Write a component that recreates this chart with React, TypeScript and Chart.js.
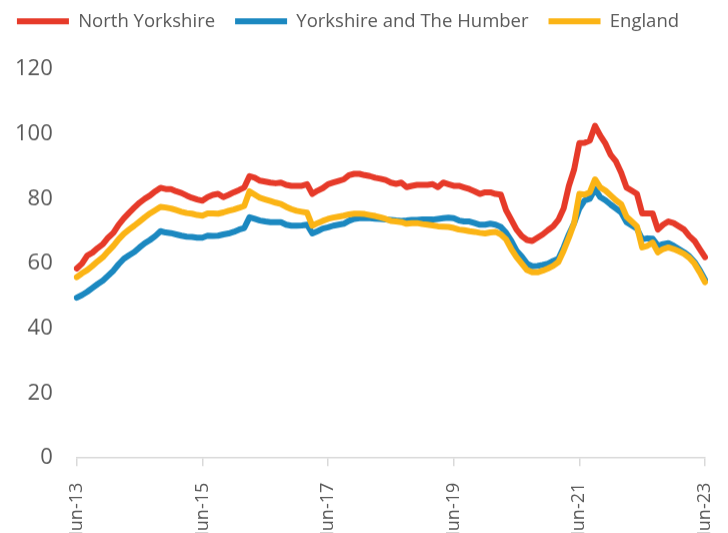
import React, { useEffect, useRef } from "react";
import { Chart, registerables } from "chart.js";

Chart.register(...registerables);

const MONTHS = ["Jan","Feb","Mar","Apr","May","Jun","Jul","Aug","Sep","Oct","Nov","Dec"];
// Monthly categories Jun-13 .. Jun-23
const categories: string[] = [];
for (let y = 2013, m = 5; y < 2023 || (y === 2023 && m <= 5); ) {
  categories.push(`${MONTHS[m]}-${String(y).slice(2)}`);
  m++;
  if (m > 11) { m = 0; y++; }
}

const northYorkshire = [
  58.5, 60, 62.5, 63.4, 64.8, 66, 68, 69.5, 72, 74, 75.7, 77.3, 78.8, 80, 81, 82.3, 83.4, 83, 83, 82.3,
  81.8, 81, 80.3, 79.8, 79.4, 80.5, 81.2, 81.5, 80.5, 81.2, 82, 82.7, 83.5, 87, 86.5, 85.6, 85.3, 85, 84.8, 85,
  84.3, 84, 84, 84, 84.5, 81.5, 82.5, 83.3, 84.5, 85, 85.5, 86, 87.3, 87.7, 87.7, 87.3, 87, 86.5, 86.2, 85.8,
  85, 84.6, 85, 83.6, 84, 84.3, 84.3, 84.3, 84.5, 83.6, 85, 84.5, 84, 84, 83.5, 83, 82.3, 81.5, 82, 82,
  81.5, 81.3, 76.5, 73.5, 70.5, 68.5, 67.3, 67, 68, 69, 70.3, 71.5, 73.5, 77, 84, 89, 97.2, 97.3, 98, 102.5,
  99.5, 97, 93.5, 91.5, 88, 83.5, 82.5, 81.5, 75.5, 75.5, 75.5, 70.5, 72, 73, 72.5, 71.5, 70.5, 68.5, 67, 64.5,
  62,
];

const yorkshireHumber = [
  49.5, 50.3, 51.3, 52.5, 53.7, 54.8, 56.3, 57.8, 59.8, 61.5, 62.6, 63.6, 65, 66.3, 67.3, 68.5, 70, 69.6, 69.4, 69,
  68.6, 68.3, 68.2, 68, 68, 68.6, 68.5, 68.6, 69, 69.3, 69.8, 70.5, 71, 74.3, 73.8, 73.3, 73, 72.8, 72.8, 72.8,
  72, 71.7, 71.7, 71.8, 72, 69.3, 70, 70.8, 71.2, 71.7, 72, 72.3, 73.2, 73.8, 74, 74, 74, 73.9, 73.8, 73.6,
  73.5, 73.3, 73.2, 73.3, 73.5, 73.5, 73.6, 73.6, 73.6, 73.8, 74, 74.2, 74, 73.3, 73, 73, 72.5, 72, 72, 72.3,
  72, 71.3, 69.5, 67, 64, 62.2, 60, 59.2, 59.3, 59.6, 60, 60.8, 61.5, 65, 69, 72.5, 77, 79.5, 80, 83,
  80.5, 79.5, 78.2, 77, 75.8, 72.8, 71.8, 70.8, 67.5, 67.8, 67.7, 65.5, 66, 66.3, 65.5, 64.5, 63.5, 62.3, 60.5, 58,
  55,
];

const england = [
  55.8, 57, 58, 59.3, 60.7, 62, 63.8, 65.5, 67.5, 69.2, 70.5, 71.7, 73, 74.3, 75.5, 76.5, 77.5, 77.3, 77, 76.5,
  76, 75.6, 75.4, 75, 74.8, 75.5, 75.5, 75.4, 75.8, 76.3, 76.7, 77.2, 77.8, 82.3, 81.3, 80.3, 79.8, 79.3, 78.8, 78.4,
  77.5, 76.8, 76.3, 76, 75.7, 71.7, 72.5, 73.2, 73.8, 74.2, 74.5, 74.8, 75.2, 75.4, 75.4, 75.3, 75, 74.7, 74.3, 73.8,
  73.2, 73, 72.8, 72.3, 72.5, 72.5, 72.2, 72, 71.8, 71.5, 71.4, 71.3, 71, 70.5, 70.3, 70, 69.8, 69.5, 69.3, 69.6,
  69.8, 69, 67.5, 64.5, 62, 60, 58, 57.3, 57.3, 57.8, 58.5, 59.3, 60.5, 64, 68, 72.5, 81.5, 81.3, 82, 86,
  83.5, 82.5, 81, 79.5, 78.3, 74.5, 73, 71.5, 65, 65.5, 66.5, 63.5, 64.5, 65, 64.5, 63.8, 63, 61.8, 60, 57.3,
  54.3,
];

const seriesNames = ["North Yorkshire", "Yorkshire and The Humber", "England"];
const seriesColors = ["#E63A29", "#1B88C0", "#FBB415"];
const yTicks = [0, 20, 40, 60, 80, 100, 120];

export default function App() {
  const ref = useRef<HTMLCanvasElement | null>(null);

  useEffect(() => {
    document.body.style.margin = "0";
    const canvas = ref.current;
    if (!canvas) return;
    Chart.defaults.font.family = "'Open Sans', sans-serif";
    Chart.defaults.color = "#595959";

    const legendHeight = {
      id: "legendHeight",
      beforeInit(chart: any) {
        const legend = chart.legend;
        if (!legend) return;
        const orig = legend.fit;
        legend.fit = function () {
          orig.call(this);
          this.height = 77;
        };
      },
    };

    const values = [northYorkshire, yorkshireHumber, england];
    const orders = [1, 2, 0];

    const chart = new Chart(canvas, {
      type: "line",
      data: {
        labels: categories,
        datasets: values.map((d, i) => ({
          label: seriesNames[i],
          data: d,
          borderColor: seriesColors[i],
          backgroundColor: seriesColors[i],
          borderWidth: 6,
          pointRadius: 0,
          pointHoverRadius: 0,
          tension: 0,
          borderJoinStyle: "round" as const,
          borderCapStyle: "round" as const,
          fill: false,
          order: orders[i],
        })),
      },
      options: {
        animation: false,
        responsive: true,
        maintainAspectRatio: false,
        layout: { autoPadding: false, padding: { top: -8, left: -9, right: 23, bottom: 0 } },
        plugins: {
          tooltip: { enabled: false },
          legend: {
            position: "top",
            labels: {
              boxWidth: 52,
              boxHeight: 6,
              padding: 20,
              font: { size: 18.5 },
              color: "#595959",
              sort: (a: any, b: any) => a.datasetIndex - b.datasetIndex,
              generateLabels: (c: any) =>
                Chart.defaults.plugins.legend.labels
                  .generateLabels(c)
                  .map((l: any) => ({ ...l, lineWidth: 0 })),
            },
          },
        },
        scales: {
          x: {
            type: "category",
            offset: false,
            border: { display: true, color: "#D9D9D9", width: 1.5 },
            grid: {
              display: true,
              drawOnChartArea: false,
              drawTicks: true,
              tickLength: 8,
              color: "#D9D9D9",
              lineWidth: 1.5,
            },
            afterFit: (scale: any) => {
              scale.paddingRight = 0;
            },
            ticks: {
              autoSkip: false,
              maxRotation: 90,
              minRotation: 90,
              padding: 16.5,
              font: { size: 18 },
              color: "#595959",
              callback: function (this: any, _v: any, index: number) {
                return index % 24 === 0 ? categories[index] : null;
              },
            },
          },
          y: {
            min: yTicks[0],
            max: yTicks[yTicks.length - 1],
            border: { display: false },
            grid: { display: false, drawTicks: false },
            afterBuildTicks: (scale: any) => {
              scale.ticks = yTicks.map((v) => ({ value: v }));
            },
            ticks: {
              padding: 24,
              font: { size: 22 },
              color: "#595959",
            },
          },
        },
      },
      plugins: [legendHeight],
    });

    return () => chart.destroy();
  }, []);

  return (
    <div style={{ position: "fixed", left: 0, top: 0, width: 728, height: 551.5 }}>
      <canvas ref={ref} />
    </div>
  );
}
